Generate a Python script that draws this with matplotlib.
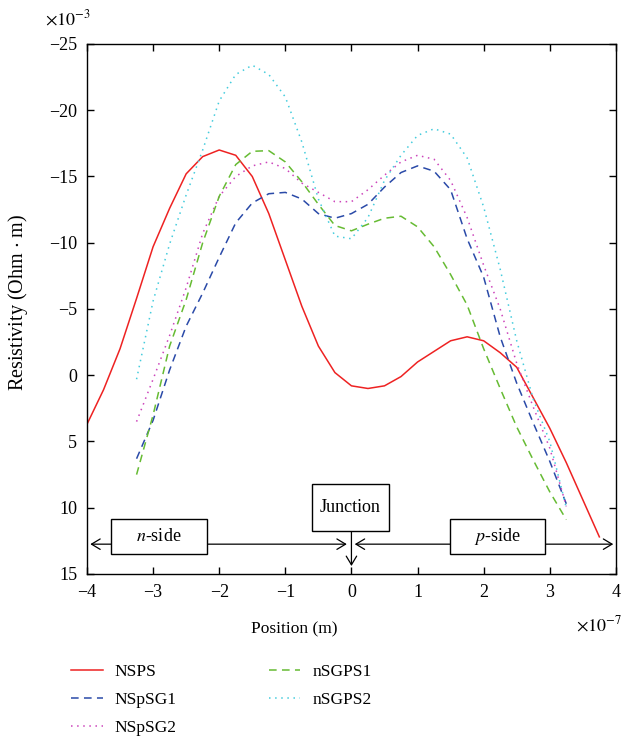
import numpy as np
import matplotlib
matplotlib.use("Agg")
from matplotlib import pyplot as plt
from matplotlib.patches import Rectangle

plt.rcParams['font.family'] = ['Liberation Serif', 'DejaVu Serif']
plt.rcParams['mathtext.fontset'] = 'stix'
plt.rcParams['font.size'] = 12.5

# position in units of 1e-7 m, resistivity in units of 1e-3 Ohm m
x_nsps = np.arange(-4.0, 3.76, 0.25)
x_other = np.arange(-3.25, 3.26, 0.25)

nsps = [3.7, 1.1, -2.0, -5.8, -9.7, -12.6, -15.2, -16.5, -17.0, -16.6, -15.0,
        -12.2, -8.7, -5.2, -2.2, -0.2, 0.8, 1.0, 0.8, 0.1, -1.0, -1.8, -2.6,
        -2.9, -2.6, -1.7, -0.6, 1.7, 4.0, 6.6, 9.4, 12.2]
nspsg1 = [6.3, 3.4, -0.4, -3.7, -6.2, -8.9, -11.5, -13.0, -13.7, -13.8, -13.3,
          -12.2, -11.85, -12.2, -12.9, -14.2, -15.3, -15.8, -15.4, -14.0,
          -10.3, -7.4, -2.9, 0.6, 3.6, 6.5, 9.7]
nspsg2 = [3.5, 0.3, -3.0, -6.6, -10.7, -13.5, -15.0, -15.8, -16.1, -15.6,
          -14.5, -13.8, -13.1, -13.1, -14.0, -15.1, -16.1, -16.6, -16.3,
          -14.7, -11.9, -8.3, -5.0, -0.9, 2.4, 5.5, 9.9]
nsgps1 = [7.5, 3.0, -2.2, -5.7, -10.0, -13.5, -15.9, -16.9, -16.95, -16.1,
          -14.6, -12.9, -11.3, -10.9, -11.4, -11.85, -12.0, -11.2, -9.7, -7.6,
          -5.3, -2.0, 1.0, 3.9, 6.4, 8.8, 10.9]
nsgps2 = [0.3, -5.6, -9.9, -13.6, -17.0, -20.7, -22.7, -23.4, -22.7, -21.0,
          -17.6, -13.3, -10.5, -10.3, -11.9, -14.7, -16.6, -18.1, -18.6, -18.2,
          -16.4, -12.7, -8.0, -2.6, 1.8, 5.0, 10.0]

fig = plt.figure(figsize=(6.24, 7.37), dpi=100)
ax = fig.add_axes([0.1394, 0.2212, 0.8476, 0.7191])

ax.plot(x_nsps, nsps, color='#ee2222', lw=1.1, label='NSPS')
ax.plot(x_other, nspsg1, color='#2a4aa8', lw=1.1, ls=(0, (5, 3.5)), label='NSpSG1')
ax.plot(x_other, nspsg2, color='#cc44bb', lw=1.1, ls=(0, (1, 3)), label='NSpSG2')
ax.plot(x_other, nsgps1, color='#66bb33', lw=1.1, ls=(0, (5, 3.5)), label='nSGPS1')
ax.plot(x_other, nsgps2, color='#44ccdd', lw=1.1, ls=(0, (1, 3)), label='nSGPS2')

ax.set_xlim(-4, 4)
ax.set_ylim(15, -25)
ax.set_xticks(np.arange(-4, 5, 1))
ax.set_yticks(np.arange(-25, 16, 5))
ax.tick_params(direction='in', top=True, right=True, length=5, width=1, pad=7, labelsize=13)
for s in ax.spines.values():
    s.set_linewidth(1.0)

ax.set_xlabel('Position (m)')
ax.xaxis.set_label_coords(0.391, -0.09)
ax.set_ylabel('Resistivity (Ohm $\\cdot$ m)', fontsize=14.5)
ax.yaxis.set_label_coords(-0.108, 0.513)
ax.text(-0.08, 1.028, '$\\times10^{-3}$', transform=ax.transAxes, ha='left', va='bottom', fontsize=13)
ax.text(1.012, -0.115, '$\\times10^{-7}$', transform=ax.transAxes, ha='right', va='bottom', fontsize=13)

# region annotations
yl = 12.75
ax.annotate('', xy=(-3.95, yl), xytext=(-0.07, yl),
            arrowprops=dict(arrowstyle='<->,head_length=0.5,head_width=0.3', lw=0.9, color='k', shrinkA=0, shrinkB=0))
ax.annotate('', xy=(3.96, yl), xytext=(0.05, yl),
            arrowprops=dict(arrowstyle='<->,head_length=0.5,head_width=0.3', lw=0.9, color='k', shrinkA=0, shrinkB=0))
ax.annotate('', xy=(0, 14.4), xytext=(0, 11.75),
            arrowprops=dict(arrowstyle='->,head_length=0.5,head_width=0.3', lw=0.9, color='k', shrinkA=0, shrinkB=0))

for (x0, x1, y0, y1, lab, yt) in [(-3.63, -2.19, 10.87, 13.51, '$n$-side', 12.19),
                                  (1.49, 2.93, 10.87, 13.51, '$p$-side', 12.19),
                                  (-0.6, 0.57, 8.23, 11.75, 'Junction', 10.0)]:
    ax.add_patch(Rectangle((x0, y0), x1 - x0, y1 - y0, facecolor='white', edgecolor='k', lw=1.0, zorder=3))
    ax.text((x0 + x1) / 2, yt, lab, ha='center', va='center', zorder=4, fontsize=13)

fig.legend(loc='upper left', bbox_to_anchor=(0.095, 0.116), ncol=2, frameon=False,
           handlelength=1.8, columnspacing=5.3, labelspacing=0.7, handletextpad=0.7,
           borderaxespad=0.3, fontsize=12.5)

fig.savefig('out.png', dpi=100)
plt.close()
